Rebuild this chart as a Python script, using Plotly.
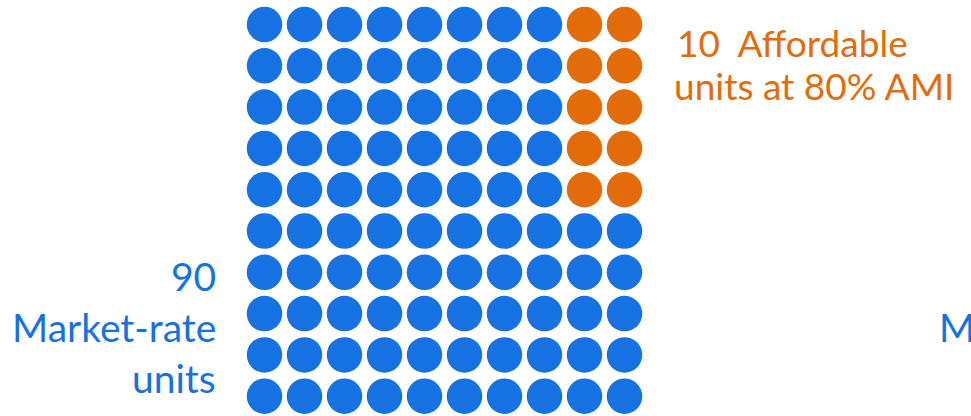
import plotly.graph_objects as go

# Unit mix shown as a 10 x 10 waffle grid
categories = ["Market-rate units", "Affordable units at 80% AMI"]
unit_counts = [90, 10]
colors = ["#1672E2", "#E36C0A"]

GRID_ROWS = 10
GRID_COLS = 10
AFFORDABLE_BLOCK_COLS = 2  # affordable units fill the top-right block, two per row

W, H = 971, 416
FONT = "Lato, 'Noto Sans', sans-serif"


def waffle_cells():
    """Assign each grid cell to a category: affordable block top-right, rest market-rate."""
    affordable = unit_counts[1]
    cells = {0: ([], []), 1: ([], [])}
    k = 0
    taken = set()
    for row in range(GRID_ROWS):
        for col in range(GRID_COLS - AFFORDABLE_BLOCK_COLS, GRID_COLS):
            if k < affordable:
                taken.add((row, col))
                k += 1
    for row in range(GRID_ROWS):
        for col in range(GRID_COLS):
            idx = 1 if (row, col) in taken else 0
            cells[idx][0].append(col)
            cells[idx][1].append(row)
    return cells


cells = waffle_cells()

fig = go.Figure()
for i, name in enumerate(categories):
    xs, ys = cells[i]
    fig.add_trace(
        go.Scatter(
            x=xs,
            y=ys,
            mode="markers",
            name=name,
            marker={"size": 35.5, "color": colors[i], "line": {"width": 0}},
            hoverinfo="skip",
        )
    )

# pixel geometry of the grid: first centre at (264.5, 24.5), pitch 40 x 41.3
x0, dx = 264.5, 40.0
y0, dy = 24.5, 41.3
fig.update_xaxes(visible=False, range=[-x0 / dx, (W - x0) / dx], domain=[0, 1])
fig.update_yaxes(visible=False, range=[(H - y0) / dy, -y0 / dy], domain=[0, 1])


def px_x(p):
    return p / W


def px_y(p):
    return 1 - p / H


def label(text, x, y, size, color, anchor):
    fig.add_annotation(
        text=text,
        x=px_x(x),
        y=px_y(y),
        xref="paper",
        yref="paper",
        xanchor=anchor,
        yanchor="middle",
        showarrow=False,
        font={"family": FONT, "size": size, "color": color},
    )


# left label (market-rate)
label(str(unit_counts[0]), 218, 276, 39, colors[0], "right")
label("Market-rate", 218, 327, 39, colors[0], "right")
label("units", 218, 378, 39, colors[0], "right")

# right label (affordable)
label(f"{unit_counts[1]}\u00a0\u00a0Affordable", 675, 43, 37, colors[1], "left")
label("units at 80% AMI", 672, 85, 37, colors[1], "left")

# label running off the right edge, as in the source slide
label("Market-rate", 937, 327, 39, colors[0], "left")

fig.update_layout(
    width=W,
    height=H,
    margin={"l": 0, "r": 0, "t": 0, "b": 0},
    paper_bgcolor="white",
    plot_bgcolor="white",
    showlegend=False,
)

fig.write_html(
    "out.html",
    config={"displayModeBar": False},
    post_script="document.body.style.margin='0';document.body.style.overflow='hidden';",
)
